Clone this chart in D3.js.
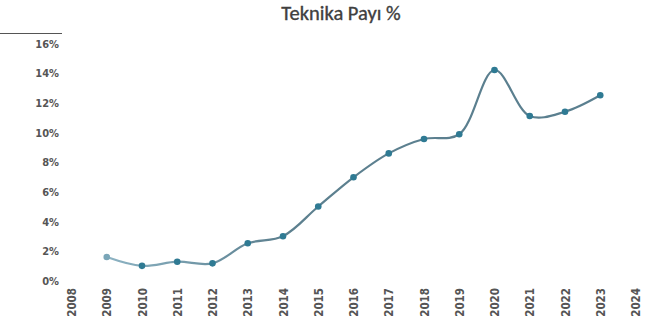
<!DOCTYPE html>
<html><head><meta charset="utf-8">
<script src="https://cdn.jsdelivr.net/npm/d3@7"></script>
<style>body{margin:0;background:#fff}svg{display:block}</style>
</head><body>
<script>
const years = [2009,2010,2011,2012,2013,2014,2015,2016,2017,2018,2019,2020,2021,2022,2023];
const shares = [1.6,1.0,1.28,1.17,2.52,3.0,5.0,6.97,8.58,9.55,9.87,14.2,11.1,11.39,12.5];
const xTicks = [2008,2009,2010,2011,2012,2013,2014,2015,2016,2017,2018,2019,2020,2021,2022,2023,2024];
const yTicks = [0,2,4,6,8,10,12,14,16];
const title = "Teknika Payı %";

const W=654,H=322;
const svg=d3.select("body").append("svg").attr("width",W).attr("height",H);
const x=d3.scaleLinear().domain([2008,2024]).range([71.5,635.5]);
const y=d3.scaleLinear().domain([0,16]).range([280.7,43.3]);

const defs=svg.append("defs");
const g=defs.append("linearGradient").attr("id","lg").attr("gradientUnits","userSpaceOnUse")
  .attr("x1",x(2009)).attr("x2",x(2023)).attr("y1",0).attr("y2",0);
g.append("stop").attr("offset","0").attr("stop-color","#8db3c3");
g.append("stop").attr("offset","0.2").attr("stop-color","#6f95a5");
g.append("stop").attr("offset","0.35").attr("stop-color","#5d808f");
g.append("stop").attr("offset","1").attr("stop-color","#5a7f8f");

// scan artifact line top-left
svg.append("line").attr("x1",0).attr("x2",62).attr("y1",33.5).attr("y2",33.5)
  .attr("stroke","#555").attr("stroke-width",1.2);

svg.append("text").attr("x",341).attr("y",20).attr("text-anchor","middle")
  .attr("font-family","Carlito, Liberation Sans, Arial, sans-serif").attr("font-size",20.5)
  .attr("fill","#404040").attr("stroke","#404040").attr("stroke-width",0.35).text(title);

const yAxis=d3.axisLeft(y).tickValues(yTicks).tickFormat(d=>d+"%").tickSize(0).tickPadding(0);
const ya=svg.append("g").attr("transform","translate(59,0)").call(yAxis);
ya.select(".domain").remove();
ya.selectAll("text").attr("font-family","DejaVu Sans Condensed, DejaVu Sans, sans-serif")
  .attr("font-weight","bold").attr("font-size",11).attr("fill","#555").attr("dy","0.35em");

const xAxis=d3.axisBottom(x).tickValues(xTicks).tickFormat(d3.format("d")).tickSize(0).tickPadding(0);
const xa=svg.append("g").attr("transform","translate(0,288)").call(xAxis);
xa.select(".domain").remove();
xa.selectAll("text").attr("font-family","DejaVu Sans Condensed, DejaVu Sans, sans-serif")
  .attr("font-weight","bold").attr("font-size",11.5).attr("fill","#555")
  .attr("transform","rotate(-90)").attr("text-anchor","end").attr("x",0).attr("y",0).attr("dy","0.35em");

const data=years.map((yr,i)=>({yr,v:shares[i]}));
const line=d3.line().x(d=>x(d.yr)).y(d=>y(d.v)).curve(d3.curveCatmullRom.alpha(0.5));
svg.append("path").datum(data).attr("d",line).attr("fill","none")
  .attr("stroke","url(#lg)").attr("stroke-width",2.2);

svg.selectAll("circle.pt").data(data).enter().append("circle").attr("class","pt")
  .attr("cx",d=>x(d.yr)).attr("cy",d=>y(d.v)).attr("r",3.3)
  .attr("fill",(d,i)=>i===0?"#7aa6b8":"#2f7a93");
</script>
</body></html>
